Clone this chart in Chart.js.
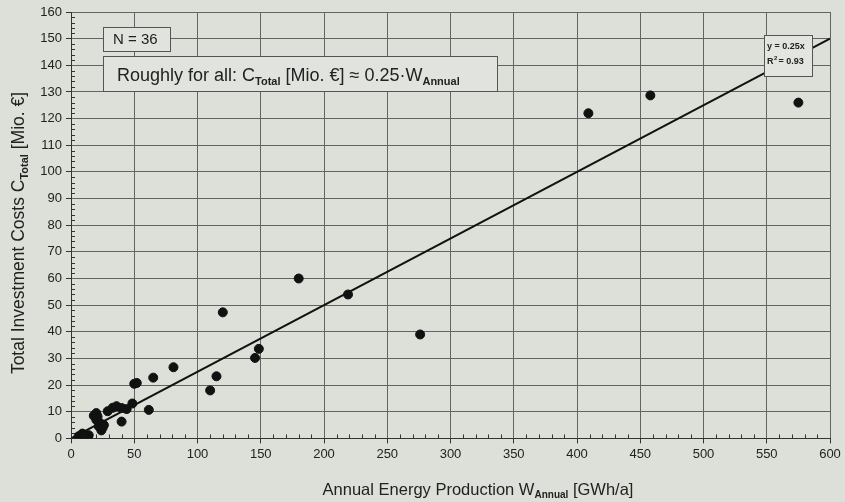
<!DOCTYPE html>
<html>
<head>
<meta charset="utf-8">
<script src="https://cdn.jsdelivr.net/npm/chart.js@4.4.1/dist/chart.umd.min.js"></script>
<style>
  html, body { margin: 0; padding: 0; background: #dde0d9; }
  #wrap { width: 845px; height: 502px; position: relative; }
</style>
</head>
<body>
<div id="wrap"><canvas id="chart" width="845" height="502"></canvas></div>
<script>
// annual production [GWh/a] and total investment [Mio. EUR]
const energyGWh = [6, 9, 14, 11, 20, 21, 20, 23, 24, 26, 22, 29, 36, 40, 40, 48.5, 50, 52,
  61.5, 65, 81, 110, 115, 120, 145.5, 148.5, 180, 219, 276, 409, 458, 575, 25, 33, 18, 44];
const costMio = [0.8, 1.8, 1.2, 1.0, 9.5, 8.2, 7.0, 5.8, 3.0, 5.0, 4.5, 10.2, 12.1, 11.4, 6.3, 13.1, 20.5, 20.8,
  10.7, 22.8, 26.7, 18.0, 23.3, 47.3, 30.2, 33.6, 60, 54, 39, 122, 128.7, 126, 4, 11.5, 8.5, 11];

// regression line y = 0.25x, end points
const trendX = [0, 600];
const trendY = [0, 150];

const xTicks = [0, 50, 100, 150, 200, 250, 300, 350, 400, 450, 500, 550, 600];
const yTicks = [0, 10, 20, 30, 40, 50, 60, 70, 80, 90, 100, 110, 120, 130, 140, 150, 160];

const FONT = '"Liberation Sans", Arial, sans-serif';
const INK = '#222';

// text with subscript parts: [[text, isSub], ...]
function richWidth(ctx, parts, size, subSize) {
  let w = 0;
  parts.forEach(p => {
    ctx.font = p[1] ? 'bold ' + subSize + 'px ' + FONT : size + 'px ' + FONT;
    w += ctx.measureText(p[0]).width;
  });
  return w;
}
function drawRich(ctx, parts, x, y, size, subSize) {
  ctx.textBaseline = 'alphabetic';
  ctx.textAlign = 'left';
  let cx = x;
  parts.forEach(p => {
    if (p[1]) {
      ctx.font = 'bold ' + subSize + 'px ' + FONT;
      ctx.fillText(p[0], cx, y + size * 0.2);
    } else {
      ctx.font = size + 'px ' + FONT;
      ctx.fillText(p[0], cx, y);
    }
    cx += ctx.measureText(p[0]).width;
  });
}

const extras = {
  id: 'extras',
  beforeDatasetsDraw(chart) {
    const ctx = chart.ctx;
    const xs = chart.scales.x, ys = chart.scales.y;
    ctx.save();
    ctx.strokeStyle = '#333';
    ctx.lineWidth = 1;
    // minor ticks
    for (let v = 0; v <= 600; v += 10) {
      if (v % 50 === 0) continue;
      const px = Math.round(xs.getPixelForValue(v)) + 0.5;
      ctx.beginPath();
      ctx.moveTo(px, ys.bottom);
      ctx.lineTo(px, ys.bottom - 4);
      ctx.stroke();
    }
    for (let v = 0; v <= 160; v += 2) {
      if (v % 10 === 0) continue;
      const py = Math.round(ys.getPixelForValue(v)) + 0.5;
      ctx.beginPath();
      ctx.moveTo(xs.left, py);
      ctx.lineTo(xs.left + 4, py);
      ctx.stroke();
    }
    ctx.restore();
  },
  afterDraw(chart) {
    const ctx = chart.ctx;
    const ys = chart.scales.y;
    ctx.save();

    // N box
    ctx.fillStyle = '#e1e4de';
    ctx.strokeStyle = '#555';
    ctx.lineWidth = 1;
    ctx.fillRect(103.5, 27.5, 67, 24);
    ctx.strokeRect(103.5, 27.5, 67, 24);
    ctx.fillStyle = INK;
    ctx.font = '15px ' + FONT;
    ctx.textBaseline = 'middle';
    ctx.textAlign = 'left';
    ctx.fillText('N = 36', 113, 40);

    // rule of thumb box
    ctx.fillStyle = '#e1e4de';
    ctx.fillRect(103.5, 56.5, 394, 35);
    ctx.strokeRect(103.5, 56.5, 394, 35);
    ctx.fillStyle = INK;
    drawRich(ctx, [['Roughly for all: C', false], ['Total', true], [' [Mio. \u20ac] \u2248 0.25\u00b7W', false], ['Annual', true]], 117, 81, 18, 11);

    // regression label box
    ctx.fillStyle = '#e3e6e0';
    ctx.fillRect(764.5, 35.5, 48, 41);
    ctx.strokeRect(764.5, 35.5, 48, 41);
    ctx.fillStyle = INK;
    ctx.font = 'bold 9px ' + FONT;
    ctx.textAlign = 'left';
    ctx.textBaseline = 'middle';
    ctx.fillText('y = 0.25x', 767, 47);
    ctx.fillText('R', 767, 62);
    ctx.font = 'bold 6px ' + FONT;
    ctx.fillText('2', 774, 58);
    ctx.font = 'bold 9px ' + FONT;
    ctx.fillText(' = 0.93', 776, 62);

    // axis titles
    ctx.fillStyle = INK;
    const xt = [['Annual Energy Production W', false], ['Annual', true], [' [GWh/a]', false]];
    const xw = richWidth(ctx, xt, 16.5, 10);
    drawRich(ctx, xt, 478 - xw / 2, 495, 16.5, 10);

    const yt = [['Total Investment Costs C', false], ['Total', true], [' [Mio. \u20ac]', false]];
    const yw = richWidth(ctx, yt, 17.5, 11);
    ctx.translate(24, 233);
    ctx.rotate(-Math.PI / 2);
    drawRich(ctx, yt, -yw / 2, 0, 17.5, 11);
    ctx.restore();
  }
};

new Chart(document.getElementById('chart'), {
  type: 'scatter',
  data: {
    datasets: [
      {
        label: 'plants',
        data: energyGWh.map((x, i) => ({ x: x, y: costMio[i] })),
        backgroundColor: '#111',
        borderColor: '#111',
        pointRadius: 4.5,
        order: 1
      },
      {
        label: 'trend',
        type: 'line',
        data: trendX.map((x, i) => ({ x: x, y: trendY[i] })),
        borderColor: '#111',
        borderWidth: 2,
        pointRadius: 0,
        fill: false,
        order: 2
      }
    ]
  },
  options: {
    responsive: false,
    animation: false,
    layout: { padding: { top: 12, right: 15, left: 0, bottom: 0 } },
    plugins: { legend: { display: false }, tooltip: { enabled: false } },
    scales: {
      x: {
        type: 'linear',
        min: 0, max: 600,
        afterBuildTicks: s => { s.ticks = xTicks.map(v => ({ value: v })); },
        afterFit: s => { s.height = 63.6; },
        ticks: { color: INK, font: { family: FONT, size: 13 }, padding: 3, maxRotation: 0 },
        grid: { color: '#62655f', lineWidth: 1, tickLength: 5, tickColor: '#333' },
        border: { color: '#333', width: 1 }
      },
      y: {
        type: 'linear',
        min: 0, max: 160,
        afterBuildTicks: s => { s.ticks = yTicks.map(v => ({ value: v })); },
        afterFit: s => { s.width = 71; },
        ticks: { color: INK, font: { family: FONT, size: 13 }, padding: 4 },
        grid: { color: '#62655f', lineWidth: 1, tickLength: 5, tickColor: '#333' },
        border: { color: '#333', width: 1 }
      }
    }
  },
  plugins: [extras]
});
</script>
</body>
</html>
